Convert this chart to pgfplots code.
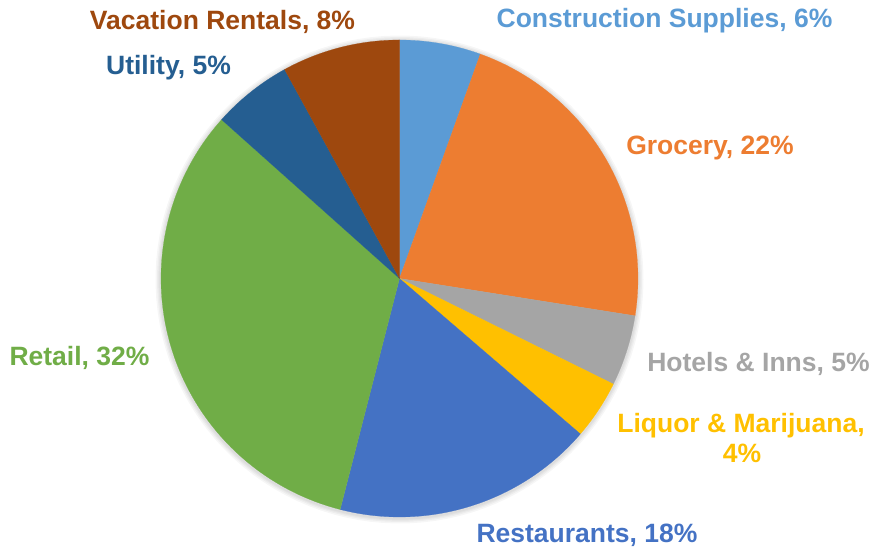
\documentclass[border=0pt]{standalone}
\usepackage{pgfplots}
\pgfplotsset{compat=1.18}
\usepackage{fontspec}
\setmainfont{Liberation Sans}
\definecolor{cConstr}{HTML}{5B9BD5}
\definecolor{cGroc}{HTML}{ED7D31}
\definecolor{cHotel}{HTML}{A5A5A5}
\definecolor{cLiq}{HTML}{FFC000}
\definecolor{cRest}{HTML}{4472C4}
\definecolor{cRetail}{HTML}{70AD47}
\definecolor{cUtil}{HTML}{255E91}
\definecolor{cVac}{HTML}{9E480E}
% slice: start cumulative %, end cumulative %, colour (clockwise from top)
\newcommand{\pieslice}[3]{%
  \addplot[fill=#3, draw=#3, line width=0.2pt, domain={90-3.6*#2}:{90-3.6*#1}, samples=90]
    ({399.5+238.5*cos(x)},{269.5+238.5*sin(x)}) -- (axis cs:399.5,269.5) -- cycle;}
% soft shadow ring of radius #1
\newcommand{\shadowring}[1]{%
  \addplot[fill=black, draw=none, fill opacity=0.035, domain=0:360, samples=120]
    ({399.5+#1*cos(x)},{268.5+#1*sin(x)}) -- cycle;}
\newcommand{\lbl}{\fontsize{26.5}{31}\selectfont\bfseries}
\begin{document}
\begin{tikzpicture}
\begin{axis}[
  width=873pt, height=548pt, scale only axis,
  xmin=0, xmax=873, ymin=0, ymax=548,
  enlargelimits=false, hide axis, clip=false]
\path (axis cs:0,0) rectangle (axis cs:873,548);
\shadowring{244}
\shadowring{242.5}
\shadowring{241.2}
\shadowring{240.2}
% values: 5.5, 22.0, 4.8, 4.0, 17.7, 32.6, 5.4, 8.0
\pieslice{0}{5.5}{cConstr}
\pieslice{5.5}{27.5}{cGroc}
\pieslice{27.5}{32.3}{cHotel}
\pieslice{32.3}{36.3}{cLiq}
\pieslice{36.3}{54.0}{cRest}
\pieslice{54.0}{86.6}{cRetail}
\pieslice{86.6}{92.0}{cUtil}
\pieslice{92.0}{100}{cVac}
\node[anchor=base, text=cConstr, font=\lbl, inner sep=0pt] at (axis cs:664.5,520.7) {Construction Supplies, 6\%};
\node[anchor=base, text=cVac, font=\lbl, inner sep=0pt] at (axis cs:222.5,518.5) {Vacation Rentals, 8\%};
\node[anchor=base, text=cUtil, font=\lbl, inner sep=0pt] at (axis cs:168.5,473) {Utility, 5\%};
\node[anchor=base, text=cGroc, font=\lbl, inner sep=0pt] at (axis cs:710,393.5) {Grocery, 22\%};
\node[anchor=base, text=cHotel, font=\lbl, inner sep=0pt] at (axis cs:758.5,176.3) {Hotels \& Inns, 5\%};
\node[anchor=base, text=cLiq, font=\lbl, inner sep=0pt] at (axis cs:741,115) {Liquor \& Marijuana,};
\node[anchor=base, text=cLiq, font=\lbl, inner sep=0pt] at (axis cs:742,85.3) {4\%};
\node[anchor=base, text=cRest, font=\lbl, inner sep=0pt] at (axis cs:587,5) {Restaurants, 18\%};
\node[anchor=base, text=cRetail, font=\lbl, inner sep=0pt] at (axis cs:79.5,182) {Retail, 32\%};
\end{axis}
\end{tikzpicture}
\end{document}
